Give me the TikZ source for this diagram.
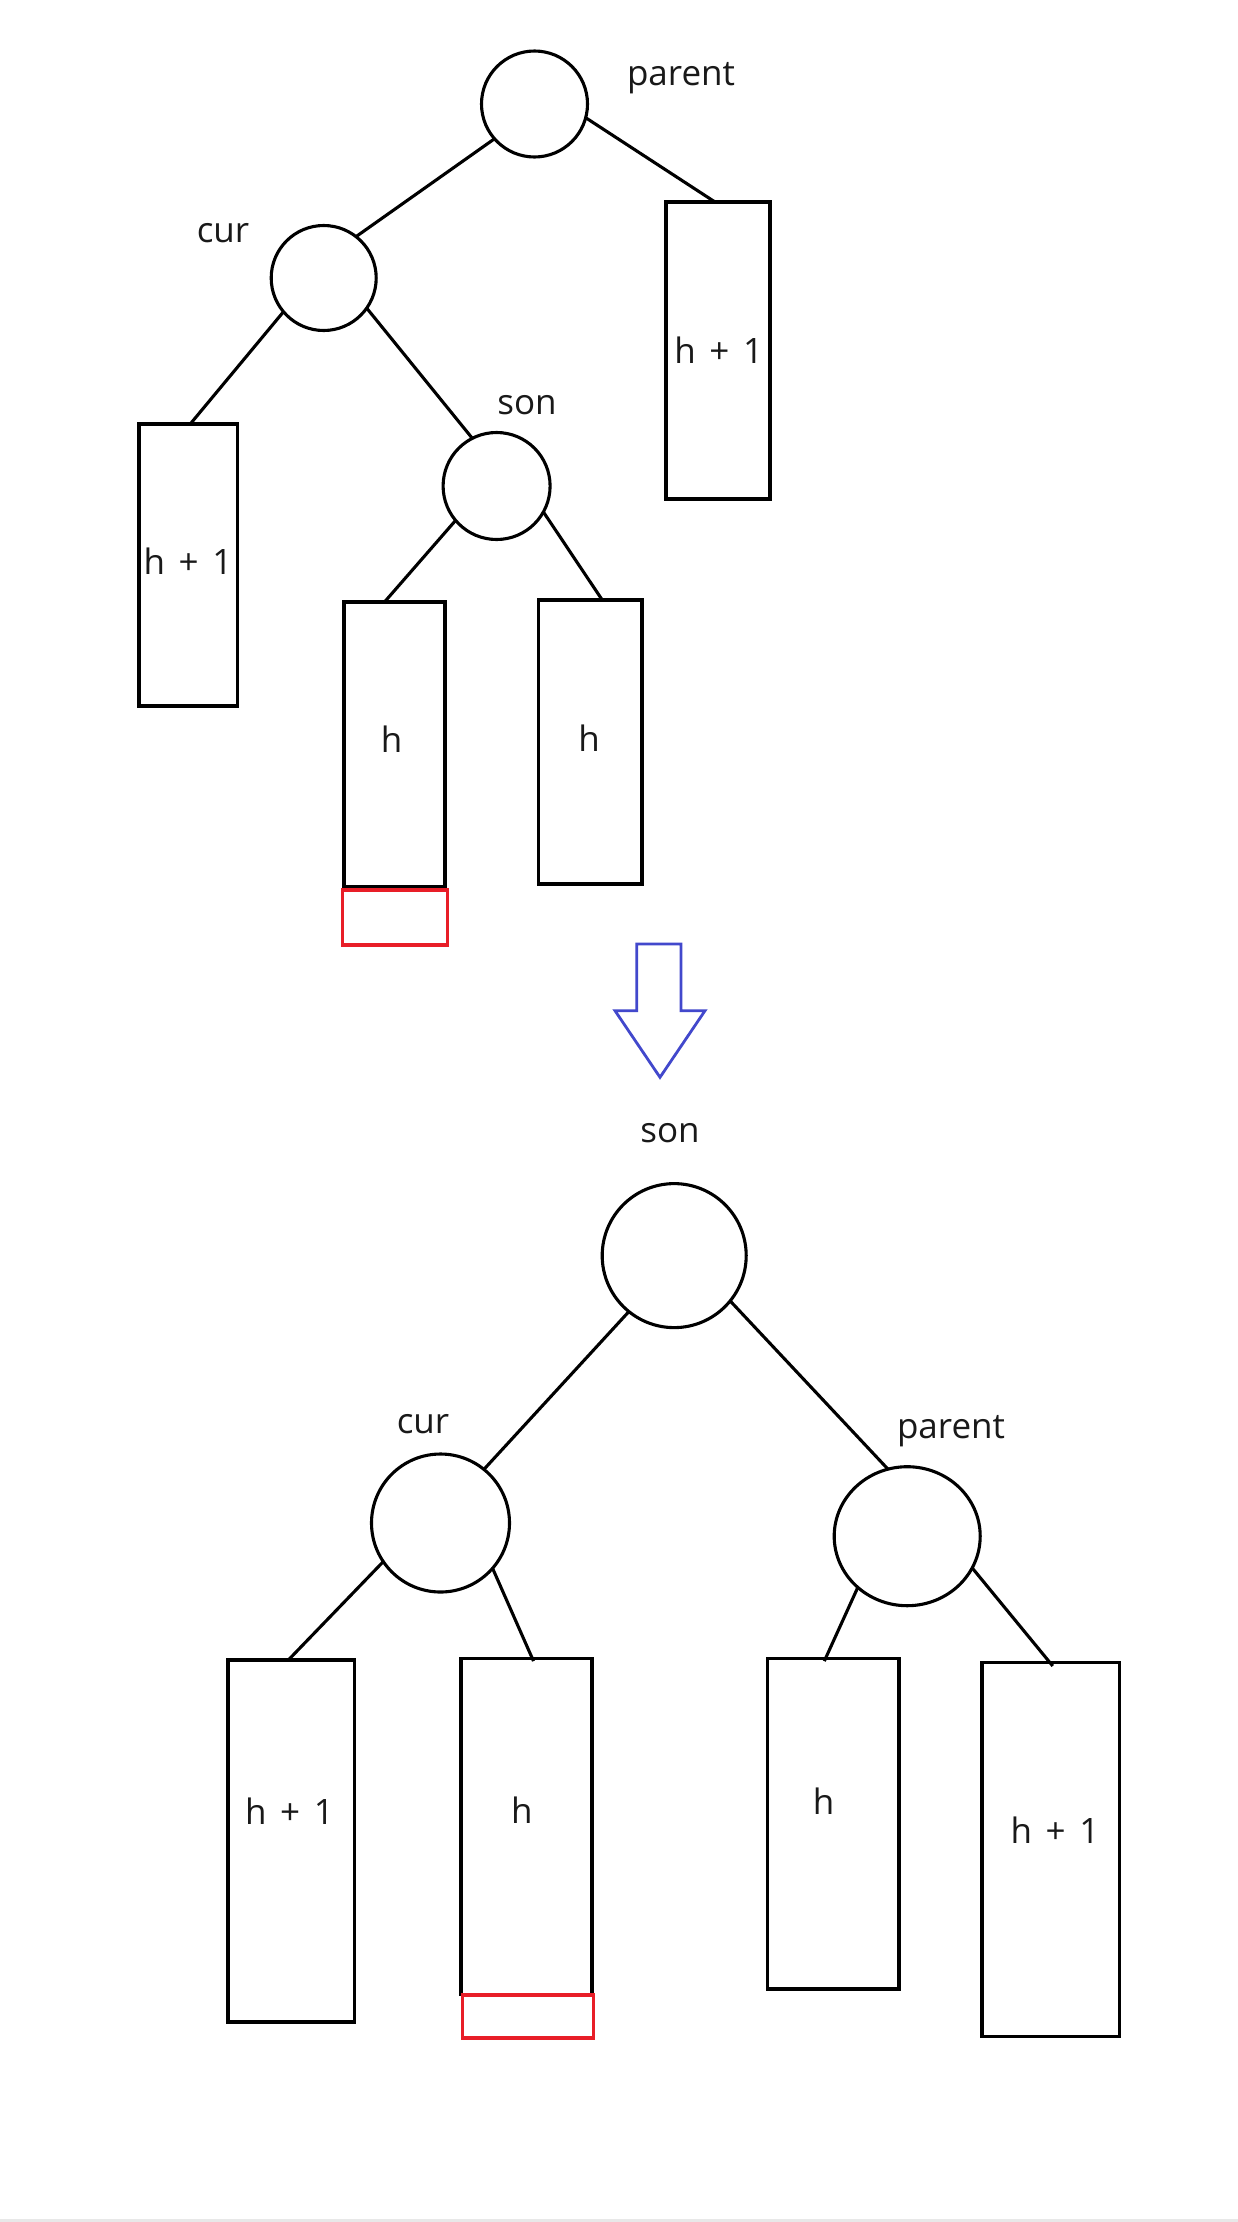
\documentclass[tikz,border=0pt]{standalone}
\usepackage{fontspec}
\setmainfont{Open Sans}[WordSpace=1.5]
\usetikzlibrary{shapes.geometric,calc}
\definecolor{redbox}{RGB}{232,30,40}
\definecolor{bluearrow}{RGB}{66,72,204}
\definecolor{bandgray}{RGB}{232,232,232}
\tikzset{
  treenode/.style={circle,draw=black,line width=3.1pt,inner sep=0pt,outer sep=0pt},
  subtree/.style={rectangle,draw=black,line width=3.7pt,inner sep=0pt,outer sep=0pt},
  redpart/.style={rectangle,draw=redbox,line width=3.4pt,inner sep=0pt,outer sep=0pt},
  lbl/.style={font=\fontsize{35}{40}\selectfont,anchor=base,inner sep=0pt,text=black!90},
  edge/.style={draw=black,line width=3.1pt}
}
\begin{document}
\begin{tikzpicture}[x=1pt,y=-1pt]
\useasboundingbox (0,0) rectangle (1238,2222);
\fill[white] (0,0) rectangle (1238,2222);
\fill[bandgray] (0,2219) rectangle (1238,2222);

% ---------- top tree ----------
\node[treenode,minimum size=106pt] (tparent) at (534.5,104) {};
\node[treenode,minimum size=105pt] (tcur) at (323.7,278) {};
\node[treenode,minimum size=107pt] (tson) at (496.6,486) {};

\node[subtree,minimum width=104pt,minimum height=297pt] (tpr) at (718,350.5) {};
\node[subtree,minimum width=98.5pt,minimum height=282pt] (tcl) at (188.25,565) {};
\node[subtree,minimum width=101pt,minimum height=285pt] (tsl) at (394.5,744.5) {};
\node[subtree,minimum width=103.5pt,minimum height=284pt] (tsr) at (590.25,742) {};
\node[redpart,minimum width=105pt,minimum height=55pt] (tred) at (395.15,917.35) {};

\node[lbl] (lparent1) at (681,85) {parent};
\node[lbl] (lcur1) at (223,242) {cur};
\node[lbl] (lson1) at (527,414.5) {son};
\node[lbl] (ltpr) at (718.7,363) {h + 1};
\node[lbl] (ltcl) at (188,574) {h + 1};
\node[lbl] (ltsl) at (391.6,752) {h};
\node[lbl] (ltsr) at (589,751) {h};

\draw[edge] (tparent.221) -- (tcur.52);
\draw[edge] (tparent.345) -- ([xshift=-3pt]tpr.north);
\draw[edge] (tcur.220) -- ([xshift=2pt]tcl.north);
\draw[edge] (tcur.325) -- (tson.117);
\draw[edge] (tson.220) -- ([xshift=-10pt]tsl.north);
\draw[edge] (tson.331) -- ([xshift=12pt]tsr.north);

% ---------- blue arrow ----------
\draw[bluearrow,line width=2.8pt,line join=miter]
  (636.7,944) -- (681,944) -- (681,1010.7) -- (705,1010.7) -- (660,1077.3)
  -- (615,1010.7) -- (636.7,1010.7) -- cycle;

% ---------- bottom tree ----------
\node[treenode,minimum size=144pt] (bson) at (674.2,1255.6) {};
\node[treenode,minimum size=138pt] (bcur) at (440.5,1523) {};
\node[ellipse,draw=black,line width=3.1pt,inner sep=0pt,outer sep=0pt,
      minimum width=146pt,minimum height=139pt] (bparent) at (907.2,1536.2) {};

\node[subtree,minimum width=126.3pt,minimum height=361.7pt] (br1) at (291.35,1840.85) {};
\node[subtree,minimum width=131pt,minimum height=335.9pt] (br2) at (526.5,1826.55) {};
\node[subtree,minimum width=131.8pt,minimum height=330.4pt] (br3) at (833.3,1823.8) {};
\node[subtree,minimum width=137.5pt,minimum height=374.1pt] (br4) at (1050.75,1849.55) {};
\node[redpart,minimum width=131pt,minimum height=43pt] (bred) at (528.2,2016.5) {};

\node[lbl] (lson2) at (670,1142) {son};
\node[lbl] (lcur2) at (423,1433) {cur};
\node[lbl] (lparent2) at (951,1438) {parent};
\node[lbl] (lbr1) at (289.4,1824.5) {h + 1};
\node[lbl] (lbr2) at (521.9,1823.8) {h};
\node[lbl] (lbr3) at (823.5,1814.4) {h};
\node[lbl] (lbr4) at (1055,1843) {h + 1};

\draw[edge] (bson.231) -- (bcur.51);
\draw[edge] (bson.321.5) -- (bparent.106);
\draw[edge] (bcur.214) -- ([xshift=-3pt]br1.north);
\draw[edge] (bcur.319) -- ([xshift=7pt,yshift=-2.5pt]br2.north);
\draw[edge] (bparent.226) -- ([xshift=-9pt,yshift=-2.5pt]br3.north);
\draw[edge] (bparent.334) -- ([xshift=2pt,yshift=-3.5pt]br4.north);
\end{tikzpicture}
\end{document}
